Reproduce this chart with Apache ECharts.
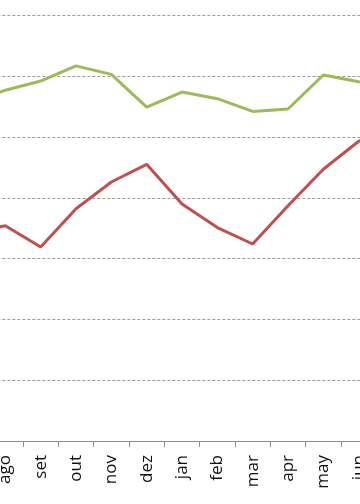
<!DOCTYPE html>
<html>
<head>
<meta charset="utf-8">
<script src="https://cdn.jsdelivr.net/npm/echarts@6/dist/echarts.min.js"></script>
<style>
html,body{margin:0;padding:0;background:#fff;overflow:hidden;width:360px;height:504px;position:relative;}
#chart{position:absolute;left:-48px;top:0;width:460px;height:504px;}
</style>
</head>
<body>
<div id="chart"></div>
<script>
var categories = ['jul', 'ago', 'set', 'out', 'nov', 'dez', 'jan', 'feb', 'mar', 'apr', 'may', 'jun', 'jul'];
var greenValues = [55.6, 57.7, 59.2, 61.7, 60.3, 54.9, 57.4, 56.3, 54.2, 54.6, 60.2, 59.1, 59.0];
var redValues = [34.3, 35.4, 31.9, 38.2, 42.6, 45.5, 39.0, 35.1, 32.4, 38.7, 44.7, 49.3, 52.0];
var yTicks = [0, 10, 20, 30, 40, 50, 60, 70];

var chart = echarts.init(document.getElementById('chart'), null, {renderer: 'canvas'});
chart.setOption({
  animation: false,
  backgroundColor: '#ffffff',
  grid: {left: 0.33, right: 0.33, top: 15.4, bottom: 63, containLabel: false},
  xAxis: {
    type: 'category',
    data: categories,
    boundaryGap: true,
    axisLine: {show: true, lineStyle: {color: '#8c8c8c', width: 1}},
    axisTick: {show: true, length: 6, lineStyle: {color: '#8c8c8c'}},
    axisLabel: {rotate: 90, margin: 14, color: '#111', fontSize: 17, fontFamily: 'Open Sans', interval: 0},
    splitLine: {show: false}
  },
  yAxis: {
    type: 'value',
    min: yTicks[0],
    max: yTicks[yTicks.length - 1],
    interval: 10,
    axisLine: {show: false},
    axisTick: {show: false},
    axisLabel: {show: false},
    splitLine: {show: true, lineStyle: {color: '#9a9a9a', type: [3, 2], width: 1}}
  },
  series: [
    {type: 'line', data: greenValues, symbol: 'none', lineStyle: {color: '#9bbb59', width: 3}, itemStyle: {color: '#9bbb59'}},
    {type: 'line', data: redValues, symbol: 'none', lineStyle: {color: '#c0504d', width: 3}, itemStyle: {color: '#c0504d'}}
  ]
});
</script>
</body>
</html>
